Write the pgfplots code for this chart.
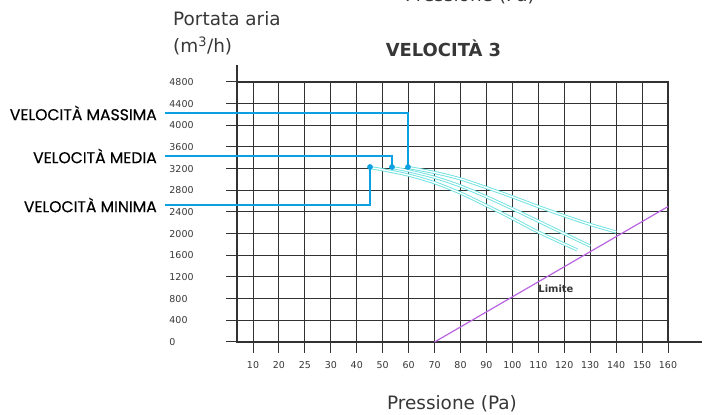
\documentclass[border=0pt]{standalone}
\usepackage{fontspec}
\setmainfont{DejaVu Sans}
\newfontfamily\calloutfont[FakeBold=0.4]{Poppins}
\usepackage{pgfplots}
\pgfplotsset{compat=1.18}
\definecolor{gridc}{RGB}{50,50,50}
\definecolor{callout}{RGB}{10,160,225}
\definecolor{curvec}{RGB}{110,225,225}
\definecolor{limc}{RGB}{185,100,225}
\definecolor{txt}{RGB}{55,55,55}
\begin{document}
\begin{tikzpicture}
\begin{axis}[
  scale only axis, width=431bp, height=260bp,
  xmin=0.383, xmax=17, ymin=0, ymax=4800,
  xtick={1,...,17},
  xticklabels={10,20,25,30,40,50,60,70,80,90,100,110,120,130,140,150,160},
  ytick={0,400,...,4800},
  grid=major,
  major grid style={gridc, line width=1bp},
  axis line style={gridc, line width=1.1bp},
  tick style={gridc, line width=1bp},
  tick align=outside,
  xtick pos=lower, ytick pos=left,
  major tick length=11bp,
  ticklabel style={font=\fontsize{9.5}{10}\selectfont, text=txt},
  yticklabel style={text width=37bp, align=left, xshift=-16bp},
  xticklabel style={yshift=-5bp},
  /pgf/number format/assume math mode=true,
  /pgf/number format/1000 sep={},
  clip=false,
]
% Limite line
\addplot[limc, line width=1.2bp] coordinates {(8,0) (17,2500)};
% curves
\addplot[draw=curvec, double=white, double distance=1.3bp, line width=0.9bp, smooth] coordinates {
 (7,3220) (8,3130) (9,3010) (10,2850) (11,2680) (12,2500) (13,2330) (14,2170) (15,2030)};
\addplot[draw=curvec, double=white, double distance=1.3bp, line width=0.9bp, smooth] coordinates {
 (6.36,3220) (7,3160) (8,3040) (9,2880) (10,2680) (11,2460) (12,2230) (13,2000) (14,1770)};
\addplot[draw=curvec, double=white, double distance=1.3bp, line width=0.9bp, smooth] coordinates {
 (5.51,3220) (6,3180) (7,3080) (8,2940) (9,2750) (10,2520) (11,2280) (12,2030) (13.5,1700)};
% callouts
\addplot[callout, line width=1.6bp] coordinates {(-2.393,4228) (6.975,4228) (6.975,3231)};
\addplot[callout, line width=1.6bp] coordinates {(-2.393,3434) (6.358,3434) (6.358,3231)};
\addplot[callout, line width=1.6bp] coordinates {(-2.393,2529) (5.511,2529) (5.511,3231)};
\addplot[callout, only marks, mark=*, mark size=2.6bp] coordinates {(6.975,3231) (6.358,3231) (5.511,3231)};
\node[anchor=east, inner sep=0pt, font=\calloutfont\fontsize{15.7}{17}\selectfont] at (axis cs:-2.701,4228) {VELOCITÀ MASSIMA};
\node[anchor=east, inner sep=0pt, font=\calloutfont\fontsize{15.7}{17}\selectfont] at (axis cs:-2.701,3434) {VELOCITÀ MEDIA};
\node[anchor=east, inner sep=0pt, font=\calloutfont\fontsize{15.7}{17}\selectfont] at (axis cs:-2.701,2529) {VELOCITÀ MINIMA};
% texts
\node[anchor=west, inner sep=0pt, text=txt, font=\fontsize{18.5}{20}\selectfont] at (axis cs:-2.084,5963) {Portata aria};
\node[anchor=west, inner sep=0pt, text=txt, font=\fontsize{18.5}{20}\selectfont] at (axis cs:-2.084,5465) {(m\textsuperscript{3}/h)};
\node[inner sep=0pt, text=txt, font=\bfseries\fontsize{18}{20}\selectfont] at (axis cs:8.344,5428) {VELOCITÀ 3};
\node[inner sep=0pt, text=txt, font=\fontsize{18.5}{20}\selectfont] at (axis cs:8.671,-1145) {Pressione (Pa)};
\node[inner sep=0pt, text=txt, font=\fontsize{18.5}{20}\selectfont] at (axis cs:9.365,6390) {Pressione (Pa)};
\node[inner sep=0pt, text=txt, font=\bfseries\fontsize{10}{11}\selectfont] at (axis cs:12.68,978) {Limite};
% axis extensions
\draw[gridc, line width=1.1bp] (rel axis cs:0,1) -- ([yshift=17bp]rel axis cs:0,1);
\draw[gridc, line width=1.1bp] (rel axis cs:1,0) -- ([xshift=34bp]rel axis cs:1,0);
\coordinate (SW) at (rel axis cs:0,0);
\coordinate (NE) at (rel axis cs:1,1);
\end{axis}
\pgfresetboundingbox
\path[use as bounding box] ([shift={(-237bp,-73bp)}]SW) rectangle ([shift={(36bp,82bp)}]NE);
\end{tikzpicture}
\end{document}
